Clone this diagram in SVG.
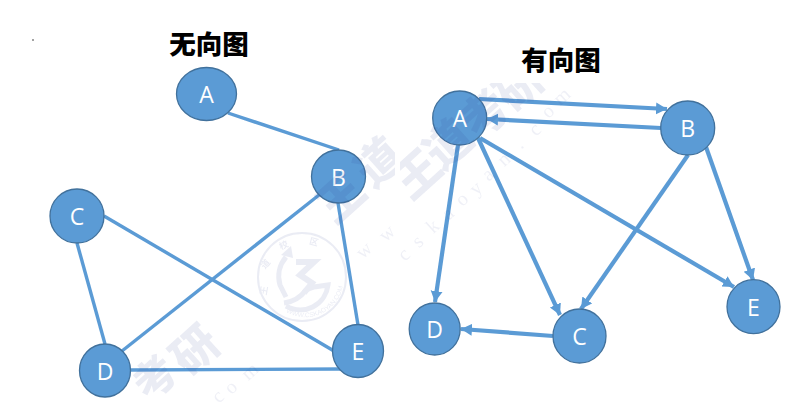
<svg xmlns="http://www.w3.org/2000/svg" width="804" height="409" viewBox="0 0 804 409">
<style>
.wm{fill:#2f3f93;font-family:"Noto Sans CJK SC","Liberation Sans",sans-serif;font-weight:900;font-size:46px;text-anchor:middle}
.wl{fill:#2f3f93;opacity:.75;font-family:"Liberation Serif",serif;font-size:20px;text-anchor:middle}
.st{fill:#2f3f93;font-family:"Noto Sans CJK SC",sans-serif;font-weight:700;font-size:9px;text-anchor:middle}
.sa{fill:#2f3f93;font-family:"Liberation Sans",sans-serif;font-size:6.500px}
.s{fill:none;stroke:#2f3f93}
.t{font-family:"Noto Sans CJK SC",sans-serif;font-weight:900;font-size:26.500px;fill:#000;text-anchor:middle}
.n ellipse{fill:#5b9bd5;stroke:#41719c;stroke-width:1.3}
.n text{font-family:"Open Sans","Noto Sans",sans-serif;font-size:23px;fill:#fff;text-anchor:middle}
.e line{stroke:#5b9bd5;stroke-width:3.400;fill:none}
.a line{stroke-width:4.200;marker-end:url(#ah)}
</style>
<defs>
<marker id="ah" markerUnits="userSpaceOnUse" markerWidth="14" markerHeight="14" refX="11" refY="6.500" orient="auto"><path d="M0 .5L11 6.500L0 12.500z" fill="#5b9bd5"/></marker>
<clipPath id="cl"><rect x="0" y="83" width="395" height="326"/></clipPath>
<clipPath id="cr"><rect x="400" y="83" width="404" height="326"/></clipPath>
<path id="arc" d="M286 312A38.500 38.500 0 0 0 340 262"/>
</defs>
<rect width="804" height="409" fill="#fff"/>
<circle cx="33" cy="40" r=".7" fill="#000"/>
<text class="t" x="209" y="54">无向图</text>
<text class="t" x="561" y="70">有向图</text>
<g id="connectors" class="e">
<line x1="228" y1="113" x2="339" y2="150"/>
<line x1="319" y1="195" x2="122" y2="351"/>
<line x1="338" y1="203" x2="358" y2="325"/>
<line x1="104" y1="216" x2="334" y2="351"/>
<line x1="77" y1="243" x2="105" y2="344"/>
<line x1="130" y1="370" x2="342" y2="369"/>
<g class="a">
<line x1="479" y1="99" x2="667" y2="109"/>
<line x1="661" y1="128" x2="487" y2="119"/>
<line x1="458" y1="145" x2="435" y2="302"/>
<line x1="478" y1="138" x2="560" y2="315"/>
<line x1="480" y1="138" x2="734" y2="287"/>
<line x1="688" y1="155" x2="581" y2="309"/>
<line x1="706" y1="147" x2="753" y2="280"/>
<line x1="553" y1="336" x2="461" y2="329"/>
</g>
</g>
<g id="u-A" class="n"><ellipse cx="206.500" cy="94" rx="30" ry="26.500"/><text x="206.500" y="103">A</text></g>
<g id="u-B" class="n"><ellipse cx="338.500" cy="176.500" rx="27" ry="26.500"/><text x="338.500" y="186">B</text></g>
<g id="u-C" class="n"><ellipse cx="77" cy="216" rx="27" ry="27"/><text x="77" y="225">C</text></g>
<g id="u-D" class="n"><ellipse cx="105" cy="370.500" rx="25.500" ry="26.500"/><text x="105" y="380">D</text></g>
<g id="u-E" class="n"><ellipse cx="358" cy="351" rx="25.500" ry="26.500"/><text x="358" y="360">E</text></g>
<g id="d-A" class="n"><ellipse cx="459.700" cy="118" rx="27" ry="27"/><text x="459.700" y="127">A</text></g>
<g id="d-B" class="n"><ellipse cx="687.700" cy="128" rx="27" ry="27"/><text x="687.700" y="137">B</text></g>
<g id="d-C" class="n"><ellipse cx="579.500" cy="336" rx="26.500" ry="27"/><text x="579.500" y="345">C</text></g>
<g id="d-D" class="n"><ellipse cx="434.700" cy="329" rx="25.500" ry="26"/><text x="434.700" y="338">D</text></g>
<g id="d-E" class="n"><ellipse cx="753.500" cy="306.700" rx="26.500" ry="27"/><text x="753.500" y="316">E</text></g>
<g id="watermark" opacity=".1">
<g clip-path="url(#cl)">
<text class="wm" transform="translate(352 210) rotate(-42)">王</text>
<text class="wm" transform="translate(390 174) rotate(-42)">道</text>
<text class="wl" transform="translate(368 255) rotate(-42)">w</text>
<text class="wl" transform="translate(391 238) rotate(-42)">w</text>
</g>
<g clip-path="url(#cr)">
<text class="wm" transform="translate(428 186) rotate(-42)">王</text>
<text class="wm" transform="translate(459 156) rotate(-42)">道</text>
<text class="wm" transform="translate(496 126) rotate(-42)">考</text>
<text class="wm" transform="translate(530 98) rotate(-42)">研</text>
<text class="wl" transform="translate(408 259) rotate(-42)">c</text>
<text class="wl" transform="translate(422 246) rotate(-42)">s</text>
<text class="wl" transform="translate(437 231) rotate(-42)">k</text>
<text class="wl" transform="translate(452 218) rotate(-42)">a</text>
<text class="wl" transform="translate(466 204) rotate(-42)">o</text>
<text class="wl" transform="translate(480 193) rotate(-42)">y</text>
<text class="wl" transform="translate(492 179) rotate(-42)">a</text>
<text class="wl" transform="translate(508 164) rotate(-42)">n</text>
<text class="wl" transform="translate(523 148) rotate(-42)">.</text>
<text class="wl" transform="translate(539 134) rotate(-42)">c</text>
<text class="wl" transform="translate(552 116) rotate(-42)">o</text>
<text class="wl" transform="translate(566 101) rotate(-42)">m</text>
</g>
<text class="wm" style="font-size:42px" transform="translate(165 389) rotate(-42)">考</text>
<text class="wm" transform="translate(206 362) rotate(-42)">研</text>
<text class="wl" transform="translate(222 401) rotate(-42)">c</text>
<text class="wl" transform="translate(235 392) rotate(-42)">o</text>
<text class="wl" transform="translate(254 376) rotate(-42)">m</text>
<circle class="s" cx="302" cy="277" r="44" stroke-width="2"/>
<path class="s" stroke-width="5" d="M286 257a30 30 0 0 0-6 28l6 12M284 303q14-2 22-13l8-3 14-2a28 28 0 0 1-42 21"/>
<path class="s" stroke-width="6" d="M296 262h18l-14 13 12 8-8 10"/>
<path d="M281 255l10-9 2 12z" fill="#2f3f93"/>
<text class="st" transform="translate(267 291) rotate(-80)">王</text>
<text class="st" transform="translate(268 266) rotate(-50)">道</text>
<text class="st" transform="translate(285 248) rotate(-25)">校</text>
<text class="st" transform="translate(313 245) rotate(15)">区</text>
<text class="sa"><textPath href="#arc">WWW.CSKAOYAN.COM</textPath></text>
</g>
</svg>
